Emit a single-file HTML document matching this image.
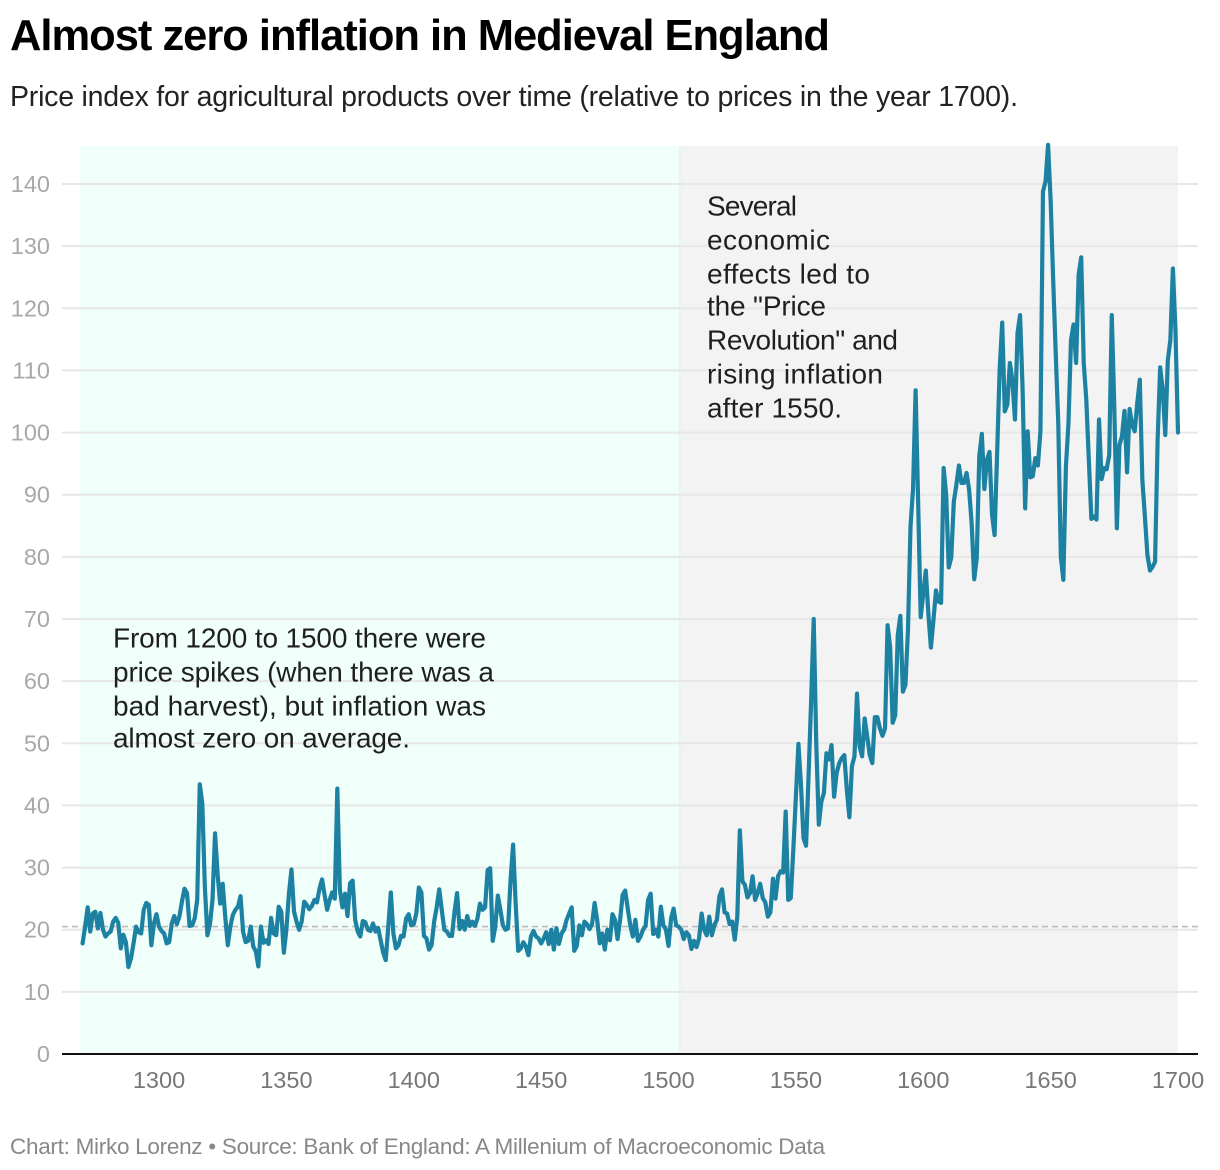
<!DOCTYPE html>
<html lang="en">
<head>
<meta charset="utf-8">
<title>Almost zero inflation in Medieval England</title>
<style>
html,body{margin:0;padding:0;background:#fff;}
svg{display:block;font-family:"Liberation Sans",sans-serif;}
</style>
</head>
<body>
<svg id="chart" xmlns="http://www.w3.org/2000/svg" width="1220" height="1170" viewBox="0 0 1220 1170">
  <rect x="0" y="0" width="1220" height="1170" fill="#ffffff"/>
  <text x="10" y="50" font-size="43.5" font-weight="700" fill="#000" textLength="820" lengthAdjust="spacing">Almost zero inflation in Medieval England</text>
  <text x="10" y="106" font-size="28.5" fill="#222" textLength="1008" lengthAdjust="spacing">Price index for agricultural products over time (relative to prices in the year 1700).</text>
  <g id="bands"></g>
  <g id="grid"></g>
  <g id="yticks"></g>
  <g id="ref"></g>
  <path id="series" fill="none" stroke="#1d81a2" stroke-width="4.2" stroke-linejoin="round" stroke-linecap="round"/>
  <g id="baseline"></g>
  <g id="xticks"></g>
  <g font-size="28" fill="#1f1f1f">
    <text x="113" y="647.5" textLength="373" lengthAdjust="spacing">From 1200 to 1500 there were</text>
    <text x="113" y="681.5" textLength="381" lengthAdjust="spacing">price spikes (when there was a</text>
    <text x="113" y="715.5" textLength="373" lengthAdjust="spacing">bad harvest), but inflation was</text>
    <text x="113" y="747.5" textLength="297" lengthAdjust="spacing">almost zero on average.</text>
  </g>
  <g font-size="28" fill="#1f1f1f">
    <text x="707" y="215.5" textLength="90" lengthAdjust="spacing">Several</text>
    <text x="707" y="249.5" textLength="123" lengthAdjust="spacing">economic</text>
    <text x="707" y="283.5" textLength="163" lengthAdjust="spacing">effects led to</text>
    <text x="707" y="315.5" textLength="119" lengthAdjust="spacing">the "Price</text>
    <text x="707" y="349.5" textLength="191" lengthAdjust="spacing">Revolution" and</text>
    <text x="707" y="383.5" textLength="176" lengthAdjust="spacing">rising inflation</text>
    <text x="707" y="417.5" textLength="135" lengthAdjust="spacing">after 1550.</text>
  </g>
  <text x="10" y="1154" font-size="22.5" fill="#888888" textLength="815" lengthAdjust="spacing">Chart: Mirko Lorenz • Source: Bank of England: A Millenium of Macroeconomic Data</text>
</svg>
<script>
const startYear = 1270;
const priceIndex = [
  17.8,20.5,23.6,19.7,22.6,22.9,20.2,22.7,20,18.9,
  19.4,19.7,21.3,21.9,21.1,17,19.2,18,14,15.4,
  17.8,20.5,19.6,19.4,23.2,24.3,24,17.5,21,22.5,
  20.5,19.8,19.4,17.8,18,21,22.2,20.9,22.1,24.5,
  26.6,25.9,20.6,20.7,21.8,24.8,43.4,40.3,26.9,19.1,
  20.9,24.8,35.5,29,24.2,27.4,22.1,17.5,20.5,22.4,
  23.2,23.7,25.4,19.7,18,18.2,20.5,17.3,16.5,14.1,
  20.5,17.9,18.3,17.7,21.9,19.4,19.1,23.7,22.9,16.3,
  20,25.8,29.7,22.9,21.3,20,21.3,24.5,24,23.3,
  23.8,24.8,24.4,26.6,28.1,25.6,23.2,24.8,26,25,
  42.7,26.4,23.6,25.8,22.2,27.5,27.9,21.6,19.7,18.9,
  21.4,21.2,20,19.8,21,19.7,20.3,18.3,16.3,15.1,
  20.5,26,19.4,17,17.5,19,18.9,21.8,22.5,20.7,
  20.9,22.6,26.8,26,19,18.6,16.8,17.5,21.3,23.6,
  26.5,23.2,20,19.7,19,19,22.9,25.9,20.1,21.4,
  20,22.2,20.6,21.3,20.6,21.8,24.2,23.2,23.6,29.6,
  29.9,18.2,20.5,25.5,23.2,20.7,20,20.2,28,33.7,
  24.2,16.6,17,18,17.3,15.9,18.9,19.8,18.9,18.6,
  17.8,18.6,19.6,17.7,20,16.8,20.2,17.7,19.4,20,
  21.6,22.6,23.6,16.6,17.4,20.7,19.1,21.3,20.9,20.1,
  20.9,24.3,21.6,17.8,19.4,16.8,20,18.3,22.5,21.6,
  18.5,21.6,25.6,26.3,23.4,20.7,18.9,21.6,18.2,18.9,
  20,20.6,24.8,25.8,19.3,20,18.9,23.7,20.7,20,
  17.4,21.8,23.4,20.7,20.5,20,18.5,19.6,19.1,16.9,
  18.2,17.2,18.6,22.6,20,19.1,22.1,19.1,20.7,21.6,
  25.4,26.5,22.8,22.6,20.9,21.3,18.4,22,36,27.8,
  27.2,25.2,25.9,28.6,24.8,25.9,27.4,25.1,24.4,22.1,
  22.8,28.2,25,28.6,29.4,29.2,39,24.8,25.1,32.9,
  41.4,49.9,43.3,34.7,33.5,45,57,70,50,36.9,
  40.6,42,48.4,47.4,49.7,41.4,45.2,46.8,47.6,48.1,
  42.5,38.1,46.3,47.9,58,49.5,47.9,54,51.1,48.1,
  46.8,54.2,54.2,52.4,51.2,52.4,69,65.5,53.3,54.5,
  67.4,70.5,58.3,59.4,68.2,84.9,91,106.8,88.7,70.3,
  74.1,77.8,70.9,65.4,69.8,74.6,72.8,72.6,94.3,90,
  78.3,79.9,88.9,91.6,94.7,91.9,91.9,93.5,90.8,85.4,
  76.4,79.8,96.2,99.8,90.9,95.6,96.9,86.8,83.5,96.7,
  110.2,117.7,103.4,104.5,111.2,108.3,102.1,116,118.9,107,
  87.8,100.2,92.8,93,95.9,94.7,100.2,138.8,140.4,146.3,
  137.4,124.6,112.8,101.5,80,76.3,94.5,101.5,114.9,117.4,
  111.2,125.4,128.2,111.2,105.3,95.6,86.1,86.5,86,102.1,
  92.5,94.3,94.1,96.4,118.9,104,84.6,98,99.4,103.5,
  93.6,103.8,101.2,100.2,104.7,108.5,92.4,86.5,80.3,77.8,
  78.4,79.2,98.8,110.5,106.9,99.6,111.6,114.9,126.4,116.5,
  100
];
const yTicks = [0,10,20,30,40,50,60,70,80,90,100,110,120,130,140];
const xTicks = [1300,1350,1400,1450,1500,1550,1600,1650,1700];
const referenceValue = 20.5;
const bandYears = [1268.9, 1504, 1505.2, 1700];

const NS = 'http://www.w3.org/2000/svg';
function xScale(year){ return 159 + (year - 1300) * (1178 - 159) / 400; }
function yScale(value){ return 1054 - value * (1054 - 184) / 140; }
function make(tag, parent, attrs){
  const el = document.createElementNS(NS, tag);
  for (const k in attrs) el.setAttribute(k, attrs[k]);
  document.getElementById(parent).appendChild(el);
  return el;
}
const plotTop = 146, plotBottom = yScale(0), axisLeft = 62, axisRight = 1198;

const mint = make('rect', 'bands', {x:xScale(bandYears[0]), y:plotTop, width:xScale(bandYears[1])-xScale(bandYears[0]), height:plotBottom-plotTop, fill:'#f0fffa'});


const strip = make('rect', 'bands', {x:xScale(bandYears[1]), y:plotTop, width:xScale(bandYears[2])-xScale(bandYears[1]), height:plotBottom-plotTop, fill:'#e9f3f0'});


const grey = make('rect', 'bands', {x:xScale(bandYears[2]), y:plotTop, width:xScale(bandYears[3])-xScale(bandYears[2]), height:plotBottom-plotTop, fill:'#f3f3f3'});



yTicks.forEach(function(v){
  if (v !== 0) {
    const g = make('line', 'grid', {x1:axisLeft, x2:axisRight, y1:yScale(v), y2:yScale(v), stroke:'#e7e7e7', 'stroke-width':2});
    
    
  }
  const t = make('text', 'yticks', {x:50, y:yScale(v)+8, 'text-anchor':'end', 'font-size':23.5, fill:'#a8a8a8'});
  
  
  t.textContent = v;
});

const refLine = make('line', 'ref', {x1:axisLeft, x2:axisRight, y1:yScale(referenceValue), y2:yScale(referenceValue), stroke:'#bbbbbb', 'stroke-width':1.6, 'stroke-dasharray':'6 4'});



document.getElementById('series').setAttribute('d', priceIndex.map(function(v, i){
  return (i ? 'L' : 'M') + xScale(startYear + i).toFixed(2) + ' ' + yScale(v).toFixed(2);
}).join(''));

const axisLine = make('line', 'baseline', {x1:axisLeft, x2:axisRight, y1:plotBottom, y2:plotBottom, stroke:'#111111', 'stroke-width':2});



xTicks.forEach(function(year){
  const t = make('text', 'xticks', {x:xScale(year), y:1088, 'text-anchor':'middle', 'font-size':23.5, fill:'#777777'});
  
  
  t.textContent = year;
});
</script>
</body>
</html>
